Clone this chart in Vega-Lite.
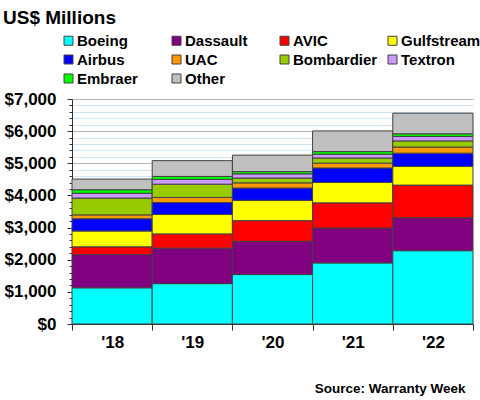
{
  "$schema": "https://vega.github.io/schema/vega-lite/v6.json",
  "autosize": "none",
  "width": 401,
  "height": 225,
  "padding": {"left": 72, "top": 99, "right": 7, "bottom": 76},
  "background": "white",
  "config": {"view": {"stroke": null}, "font": "Liberation Sans"},
  "title": {"text": "US$ Millions", "anchor": "start", "frame": "group", "dx": -69, "offset": 5, "fontSize": 19, "fontWeight": "bold", "font": "Liberation Sans", "color": "black"},
  "data": {"values": [
    {"year": "'18", "maker": "Boeing", "value": 1126},
    {"year": "'18", "maker": "Dassault", "value": 1035},
    {"year": "'18", "maker": "AVIC", "value": 240},
    {"year": "'18", "maker": "Gulfstream", "value": 492},
    {"year": "'18", "maker": "Airbus", "value": 382},
    {"year": "'18", "maker": "UAC", "value": 120},
    {"year": "'18", "maker": "Bombardier", "value": 522},
    {"year": "'18", "maker": "Textron", "value": 150},
    {"year": "'18", "maker": "Embraer", "value": 110},
    {"year": "'18", "maker": "Other", "value": 332},
    {"year": "'19", "maker": "Boeing", "value": 1256},
    {"year": "'19", "maker": "Dassault", "value": 1105},
    {"year": "'19", "maker": "AVIC", "value": 442},
    {"year": "'19", "maker": "Gulfstream", "value": 603},
    {"year": "'19", "maker": "Airbus", "value": 372},
    {"year": "'19", "maker": "UAC", "value": 160},
    {"year": "'19", "maker": "Bombardier", "value": 412},
    {"year": "'19", "maker": "Textron", "value": 150},
    {"year": "'19", "maker": "Embraer", "value": 90},
    {"year": "'19", "maker": "Other", "value": 492},
    {"year": "'20", "maker": "Boeing", "value": 1538},
    {"year": "'20", "maker": "Dassault", "value": 1035},
    {"year": "'20", "maker": "AVIC", "value": 643},
    {"year": "'20", "maker": "Gulfstream", "value": 633},
    {"year": "'20", "maker": "Airbus", "value": 382},
    {"year": "'20", "maker": "UAC", "value": 160},
    {"year": "'20", "maker": "Bombardier", "value": 150},
    {"year": "'20", "maker": "Textron", "value": 130},
    {"year": "'20", "maker": "Embraer", "value": 70},
    {"year": "'20", "maker": "Other", "value": 513},
    {"year": "'21", "maker": "Boeing", "value": 1900},
    {"year": "'21", "maker": "Dassault", "value": 1085},
    {"year": "'21", "maker": "AVIC", "value": 784},
    {"year": "'21", "maker": "Gulfstream", "value": 633},
    {"year": "'21", "maker": "Airbus", "value": 452},
    {"year": "'21", "maker": "UAC", "value": 150},
    {"year": "'21", "maker": "Bombardier", "value": 160},
    {"year": "'21", "maker": "Textron", "value": 120},
    {"year": "'21", "maker": "Embraer", "value": 80},
    {"year": "'21", "maker": "Other", "value": 643},
    {"year": "'22", "maker": "Boeing", "value": 2281},
    {"year": "'22", "maker": "Dassault", "value": 1025},
    {"year": "'22", "maker": "AVIC", "value": 1015},
    {"year": "'22", "maker": "Gulfstream", "value": 583},
    {"year": "'22", "maker": "Airbus", "value": 412},
    {"year": "'22", "maker": "UAC", "value": 190},
    {"year": "'22", "maker": "Bombardier", "value": 190},
    {"year": "'22", "maker": "Textron", "value": 140},
    {"year": "'22", "maker": "Embraer", "value": 80},
    {"year": "'22", "maker": "Other", "value": 643}
  ]},
  "transform": [
    {"calculate": "indexof(['Boeing','Dassault','AVIC','Gulfstream','Airbus','UAC','Bombardier','Textron','Embraer','Other'], datum.maker)", "as": "stackOrder"}
  ],
  "mark": {"type": "bar", "stroke": "#404040", "strokeWidth": 1},
  "encoding": {
    "x": {
      "field": "year", "type": "nominal", "sort": null,
      "scale": {"paddingInner": 0, "paddingOuter": 0},
      "axis": {
        "labelAngle": 0, "labelFont": "Liberation Sans", "labelFontSize": 17, "labelFontWeight": "bold", "labelColor": "black",
        "labelPadding": 4, "tickBand": "extent", "tickSize": 6, "tickColor": "#333", "domainColor": "#333",
        "title": "Source: Warranty Week", "titleFont": "Liberation Sans", "titleFontSize": 13.5, "titleFontWeight": "bold", "titleColor": "black",
        "titleX": 393, "titleY": 68, "titleAlign": "right", "titleAnchor": null, "titleBaseline": "alphabetic"
      }
    },
    "y": {
      "field": "value", "type": "quantitative", "stack": "zero",
      "scale": {"domain": [0, 7000], "nice": false},
      "axis": {
        "values": [0,200,400,600,800,1000,1200,1400,1600,1800,2000,2200,2400,2600,2800,3000,3200,3400,3600,3800,4000,4200,4400,4600,4800,5000,5200,5400,5600,5800,6000,6200,6400,6600,6800,7000],
        "labelExpr": "datum.value % 1000 === 0 ? '$' + format(datum.value, ',') : ''",
        "gridColor": {"condition": {"test": "datum.value % 1000 === 0", "value": "#b4b4b4"}, "value": "#cfe4f7"},
        "tickSize": {"condition": {"test": "datum.value % 1000 === 0", "value": 5}, "value": 3},
        "tickColor": "#333", "domainColor": "#333",
        "labelFont": "Liberation Sans", "labelFontSize": 17, "labelFontWeight": "bold", "labelColor": "black",
        "labelPadding": 11, "title": null
      }
    },
    "order": {"field": "stackOrder", "type": "quantitative", "sort": "ascending"},
    "color": {
      "field": "maker", "type": "nominal",
      "scale": {
        "domain": ["Boeing", "Dassault", "AVIC", "Gulfstream", "Airbus", "UAC", "Bombardier", "Textron", "Embraer", "Other"],
        "range": ["#00ffff", "#800080", "#ff0000", "#ffff00", "#0000ff", "#ff9900", "#99cc00", "#cc99ff", "#00ff00", "#c0c0c0"]
      },
      "legend": {
        "orient": "none", "direction": "horizontal", "legendX": -11, "legendY": -66, "columns": 4, "gridAlign": "all", "columnPadding": 7, "rowPadding": 3,
        "title": null, "symbolType": "square", "symbolSize": 81, "symbolStrokeColor": "#404040", "symbolStrokeWidth": 1, "symbolOpacity": 1,
        "labelFont": "Liberation Sans", "labelFontSize": 15, "labelFontWeight": "bold", "labelColor": "black", "labelOffset": 1, "labelLimit": 200
      }
    }
  }
}
